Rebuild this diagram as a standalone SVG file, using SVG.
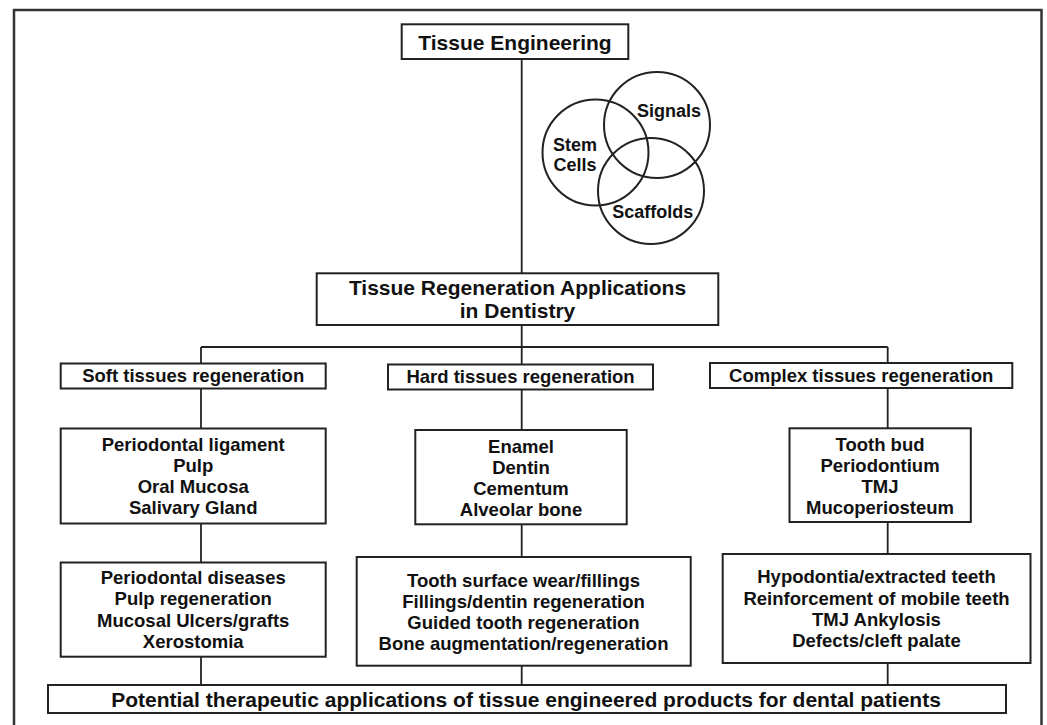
<svg xmlns="http://www.w3.org/2000/svg" width="1047" height="725" viewBox="0 0 1047 725">
<style>
.box{fill:#fff;stroke:#222;stroke-width:2}
.t{font-family:"Liberation Sans",Arial,sans-serif;font-weight:bold;fill:#111;text-anchor:middle}
.s18{font-size:18.5px}
.s21{font-size:21px}
.ln{stroke:#222;stroke-width:1.8;fill:none}
.circ{fill:none;stroke:#222;stroke-width:2}
</style>
<rect x="0" y="0" width="1047" height="725" fill="#fff"/>
<rect id="frame" x="14" y="10" width="1027.5" height="730" fill="none" stroke="#333" stroke-width="2.5"/>
<g id="connectors">
<line class="ln" x1="521.7" y1="59" x2="521.7" y2="273.5"/>
<line class="ln" x1="521.7" y1="325" x2="521.7" y2="347"/>
<line class="ln" x1="201" y1="347" x2="887.7" y2="347"/>
<line class="ln" x1="201" y1="347" x2="201" y2="363.5"/>
<line class="ln" x1="521.7" y1="347" x2="521.7" y2="364.5"/>
<line class="ln" x1="887.7" y1="347" x2="887.7" y2="363"/>
<line class="ln" x1="201" y1="388.5" x2="201" y2="428.5"/>
<line class="ln" x1="521.7" y1="389" x2="521.7" y2="430"/>
<line class="ln" x1="887.7" y1="388" x2="887.7" y2="428.5"/>
<line class="ln" x1="201" y1="523.5" x2="201" y2="562.5"/>
<line class="ln" x1="521.7" y1="524.5" x2="521.7" y2="557"/>
<line class="ln" x1="887.7" y1="522" x2="887.7" y2="554"/>
<line class="ln" x1="201" y1="656.7" x2="201" y2="685"/>
<line class="ln" x1="521.7" y1="665.7" x2="521.7" y2="685"/>
<line class="ln" x1="887.7" y1="663" x2="887.7" y2="685"/>
</g>
<g id="tissue-engineering">
<rect class="box" x="401.7" y="24.3" width="226.6" height="34.7"/>
<text class="t s21" x="515" y="50">Tissue Engineering</text>
</g>
<g id="venn">
<circle class="circ" cx="657" cy="125" r="53"/>
<circle class="circ" cx="595.5" cy="152.5" r="53"/>
<circle class="circ" cx="651" cy="191" r="53"/>
<text class="t" style="font-size:18px" x="669" y="117.3">Signals</text>
<text class="t" style="font-size:18px" x="575" y="150.7">Stem</text>
<text class="t" style="font-size:18px" x="575" y="170.7">Cells</text>
<text class="t" style="font-size:18px" x="652.7" y="218.3">Scaffolds</text>
</g>
<g id="tra">
<rect class="box" x="316.7" y="273.3" width="401.6" height="51.7"/>
<text class="t s21" x="517.5" y="295">Tissue Regeneration Applications</text>
<text class="t s21" x="517.5" y="318.3">in Dentistry</text>
</g>
<g id="soft">
<rect class="box" x="60.7" y="363.5" width="265" height="25"/>
<text class="t s18" x="193.2" y="382.3">Soft tissues regeneration</text>
</g>
<g id="hard">
<rect class="box" x="388" y="364.5" width="265" height="25"/>
<text class="t s18" x="520.5" y="383.3">Hard tissues regeneration</text>
</g>
<g id="complex">
<rect class="box" x="710" y="363" width="302.3" height="25"/>
<text class="t s18" x="861.2" y="381.8">Complex tissues regeneration</text>
</g>
<g id="soft-tissues">
<rect class="box" x="60.7" y="428.5" width="265" height="95"/>
<text class="t s18" x="193.2" y="450.7">Periodontal ligament</text>
<text class="t s18" x="193.2" y="471.7">Pulp</text>
<text class="t s18" x="193.2" y="492.7">Oral Mucosa</text>
<text class="t s18" x="193.2" y="513.8">Salivary Gland</text>
</g>
<g id="hard-tissues">
<rect class="box" x="415.3" y="430" width="211.4" height="94.3"/>
<text class="t s18" x="521" y="452.5">Enamel</text>
<text class="t s18" x="521" y="473.5">Dentin</text>
<text class="t s18" x="521" y="494.7">Cementum</text>
<text class="t s18" x="521" y="515.8">Alveolar bone</text>
</g>
<g id="complex-tissues">
<rect class="box" x="789.5" y="428.3" width="181.3" height="93.7"/>
<text class="t s18" x="880" y="450.5">Tooth bud</text>
<text class="t s18" x="880" y="471.7">Periodontium</text>
<text class="t s18" x="880" y="492.7">TMJ</text>
<text class="t s18" x="880" y="513.5">Mucoperiosteum</text>
</g>
<g id="soft-apps">
<rect class="box" x="60.7" y="562.5" width="265" height="94.2"/>
<text class="t s18" x="193.2" y="584.3">Periodontal diseases</text>
<text class="t s18" x="193.2" y="605.3">Pulp regeneration</text>
<text class="t s18" x="193.2" y="626.5">Mucosal Ulcers/grafts</text>
<text class="t s18" x="193.2" y="647.7">Xerostomia</text>
</g>
<g id="hard-apps">
<rect class="box" x="356.7" y="557" width="334" height="108.7"/>
<text class="t s18" x="523.5" y="586.7">Tooth surface wear/fillings</text>
<text class="t s18" x="523.5" y="607.7">Fillings/dentin regeneration</text>
<text class="t s18" x="523.5" y="628.7">Guided tooth regeneration</text>
<text class="t s18" x="523.5" y="649.8">Bone augmentation/regeneration</text>
</g>
<g id="complex-apps">
<rect class="box" x="722.7" y="554" width="307.8" height="109"/>
<text class="t s18" x="876.5" y="583.3">Hypodontia/extracted teeth</text>
<text class="t s18" x="876.5" y="604.5">Reinforcement of mobile teeth</text>
<text class="t s18" x="876.5" y="625.7">TMJ Ankylosis</text>
<text class="t s18" x="876.5" y="646.7">Defects/cleft palate</text>
</g>
<g id="potential">
<rect class="box" x="48" y="685" width="958" height="28"/>
<text class="t s21" x="526" y="706.5">Potential therapeutic applications of tissue engineered products for dental patients</text>
</g>
</svg>
